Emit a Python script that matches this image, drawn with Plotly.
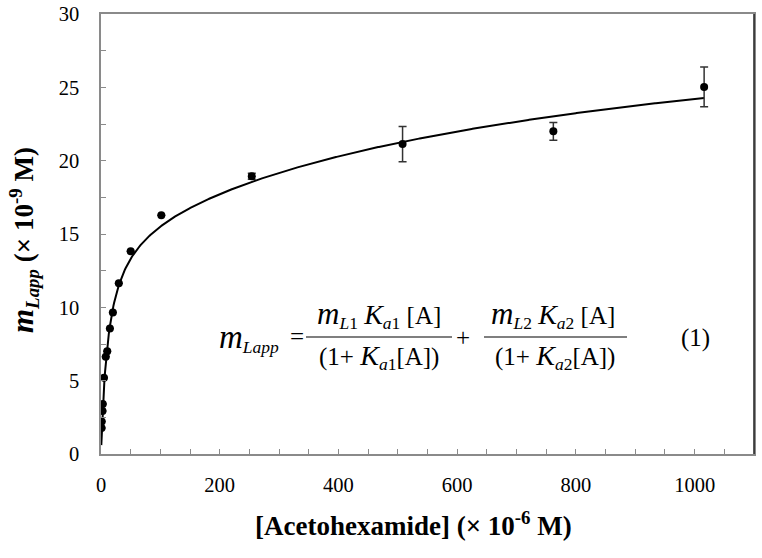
import numpy as np
import plotly.graph_objects as go

# ---- data ----
conc = [1.0, 1.2, 2.5, 3.0, 5.0, 8.0, 10.5, 15.0, 20.0, 30.0, 50.0, 101.6, 254.0, 508.0, 762.0, 1016.0]
m_lapp = [1.77, 2.21, 2.94, 3.41, 5.2, 6.63, 7.01, 8.55, 9.64, 11.65, 13.82, 16.27, 18.94, 21.13, 22.0, 25.03]
err = [0, 0, 0, 0, 0, 0, 0, 0, 0, 0, 0, 0, 0.2, 1.2, 0.6, 1.35]

# two-site model parameters (estimated fit)
mL1, Ka1 = 15.5, 0.08
mL2, Ka2 = 16.5, 0.00117

x_ticks = [0, 200, 400, 600, 800, 1000]
y_ticks = [0, 5, 10, 15, 20, 25, 30]

xf = np.linspace(0.5, 1016, 800)
yf = mL1 * Ka1 * xf / (1 + Ka1 * xf) + mL2 * Ka2 * xf / (1 + Ka2 * xf)

W, H = 762, 558
L, R, T, B = 101, 754, 14, 454
FONT = "Liberation Serif"


def px(xp):
    return (xp - L) / (R - L)


def py(yp):
    return (B - yp) / (B - T)


fig = go.Figure()
fig.add_trace(go.Scatter(x=xf, y=yf, mode="lines", line=dict(color="black", width=2),
                         hoverinfo="skip", showlegend=False))
fig.add_trace(go.Scatter(x=conc, y=m_lapp, mode="markers",
                         marker=dict(color="black", size=8),
                         error_y=dict(type="data", array=err, visible=True, color="#333333",
                                      thickness=1.5, width=4),
                         showlegend=False))

axis_common = dict(showgrid=False, zeroline=False, showline=True, linecolor="#8a8a8a", linewidth=1.5,
                   mirror=True, ticks="inside", ticklen=5, tickcolor="#8a8a8a", tickwidth=1,
                   automargin=False,
                   tickfont=dict(family=FONT, size=20.5, color="black"))

fig.update_xaxes(range=[0, 1100], tickvals=x_ticks, ticklabelstandoff=12,
                 minor=dict(dtick=50, ticks="inside", ticklen=5, tickcolor="#8a8a8a", showgrid=False),
                 **axis_common)
fig.update_yaxes(range=[0, 30], tickvals=y_ticks, ticklabelstandoff=16,
                 minor=dict(dtick=2.5, ticks="inside", ticklen=5, tickcolor="#8a8a8a", showgrid=False),
                 **axis_common)

eq_font = dict(family=FONT, size=25, color="black")
anns = []


def big(s, size=31):
    return '<span style="font-size:%dpx"><i>%s</i></span>' % (size, s)


def add_text(text, xc, yc, font=eq_font, **kw):
    anns.append(dict(text=text, x=px(xc), y=py(yc), xref="paper", yref="paper",
                     showarrow=False, xanchor="center", yanchor="middle", font=font, **kw))


add_text(big("m", 33) + "<sub><i>Lapp</i></sub>", 249, 338)
add_text("=", 297, 336)
add_text(big("m") + "<sub><i>L</i>1</sub> " + big("K", 28) + "<sub><i>a</i>1</sub> [A]", 379, 314)
add_text("(1+ " + big("K", 28) + "<sub><i>a</i>1</sub>[A])", 379, 357)
add_text("+", 463, 337)
add_text(big("m") + "<sub><i>L</i>2</sub> " + big("K", 28) + "<sub><i>a</i>2</sub> [A]", 553, 314)
add_text("(1+ " + big("K", 28) + "<sub><i>a</i>2</sub>[A])", 555, 357)
add_text("(1)", 695, 338)

add_text("<b>[Acetohexamide] (× 10<sup>-6</sup> M)</b>", 413, 524,
         font=dict(family=FONT, size=27, color="black"))
add_text("<b>" + big("m", 31) + "<sub><i>Lapp</i></sub> (× 10<sup>-9</sup> M)</b>", 24, 240,
         font=dict(family=FONT, size=27, color="black"), textangle=-90)

shapes = [
    dict(type="line", xref="paper", yref="paper", x0=px(306), x1=px(452), y0=py(337), y1=py(337),
         line=dict(color="black", width=1.2)),
    dict(type="line", xref="paper", yref="paper", x0=px(484), x1=px(627), y0=py(337), y1=py(337),
         line=dict(color="black", width=1.2)),
    dict(type="line", xref="paper", yref="paper", x0=1, x1=1, y0=0, y1=1,
         line=dict(color="#222222", width=1.5)),
]

fig.update_layout(width=W, height=H, margin=dict(l=L, r=W - R, t=T, b=H - B, pad=0),
                  plot_bgcolor="white", paper_bgcolor="white", annotations=anns, shapes=shapes,
                  font=dict(family=FONT))

fig.write_html("out.html", config={"displayModeBar": False},
               post_script="document.body.style.margin='0px';")
